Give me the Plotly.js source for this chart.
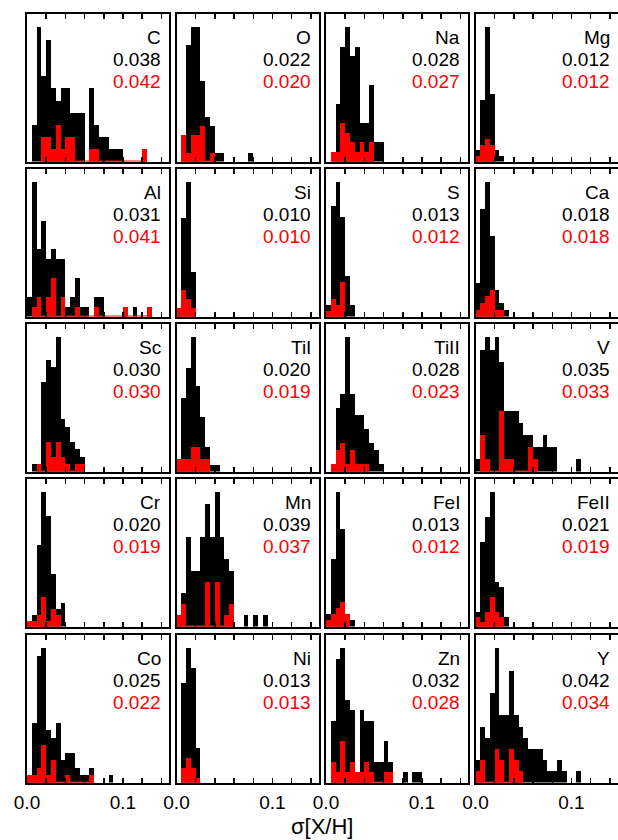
<!DOCTYPE html>
<html><head><meta charset="utf-8">
<script src="https://cdn.plot.ly/plotly-3.0.1.min.js"></script>
<style>html,body{margin:0;padding:0;background:#fff}#chart{width:618px;height:840px}</style>
</head><body><div id="chart"></div>
<script>
// ---- data (counts per 0.005-wide bin of sigma[X/H], starting at 0) ----
const binWidth = 0.005;
const elements = ["C","O","Na","Mg","Al","Si","S","Ca","Sc","TiI","TiII","V","Cr","Mn","FeI","FeII","Co","Ni","Zn","Y"];
const sigmaAll = ["0.038","0.022","0.028","0.012","0.031","0.010","0.013","0.018","0.030","0.020","0.028","0.035","0.020","0.039","0.013","0.021","0.025","0.013","0.032","0.042"];
const sigmaSub = ["0.042","0.020","0.027","0.012","0.041","0.010","0.012","0.018","0.030","0.019","0.023","0.033","0.019","0.037","0.012","0.019","0.022","0.013","0.028","0.034"];

const C_all = [0,3,11,7,10,6,5,6,6,4,4,4,0,6,3,2,2,1,1,1,0,0,0,0,1];
const C_sub = [0,0,0,2,2,1,3,1,2,2,0,0,0,1,1,0,0,0,0,0,0,0,0,0,1];
const O_all = [0,3,13,15,15,9,5,4,1,1,0,0,0,0,0,1];
const O_sub = [0,3,1,3,3,4,0,1];
const Na_all = [0,1,6,12,14,11,12,4,4,8,2,2];
const Na_sub = [0,1,1,4,3,2,1,2,1,2];
const Mg_all = [2,11,24,12,2,1];
const Mg_sub = [1,3,4,3];
const Al_all = [2,14,7,10,6,7,6,6,1,2,4,1,1,0,2,2,0,0,0,0,1,0,1,0,0,1];
const Al_sub = [0,1,2,0,2,4,0,2,0,0,1,0,0,0,1,0,0,0,0,0,1,0,0,0,0,1];
const Si_all = [1,11,15,5];
const Si_sub = [1,3,2,1];
const S_all = [2,19,23,17,7,2];
const S_sub = [1,3,2,6];
const Ca_all = [5,16,20,12,4,2,1];
const Ca_sub = [1,2,3,4,1,1];
const Sc_all = [0,1,1,12,15,14,18,7,6,4,3,2];
const Sc_sub = [0,0,1,0,4,2,4,2,1,0,1,1];
const TiI_all = [2,12,17,22,14,9,4,1,1];
const TiI_sub = [2,2,2,4,4,2,2];
const TiII_all = [0,1,9,11,19,11,8,8,6,4,3,1];
const TiII_sub = [0,1,3,4,1,3,1,1,1];
const V_all = [1,10,11,10,11,9,5,5,5,4,3,3,2,2,3,2,2,0,0,0,0,1];
const V_sub = [0,3,1,0,0,5,1,1,0,0,0,2,1];
const Cr_all = [1,2,14,23,19,9,3,4];
const Cr_sub = [1,1,2,5,1,3,2];
const Mn_all = [1,3,8,5,5,8,11,8,12,8,6,5,0,0,1,0,1,0,1];
const Mn_sub = [1,2,0,0,0,0,4,0,4,0,1,2];
const FeI_all = [2,11,22,16,2,1];
const FeI_sub = [1,2,3,4,2];
const FeII_all = [3,17,22,27,9,8,2];
const FeII_sub = [2,1,3,6,3,2];
const Co_all = [1,8,17,18,7,6,8,3,4,4,2,1,1,2,0,0,0,1];
const Co_sub = [1,1,2,5,1,3,0,0,1,0,0,0,0,1];
const Ni_all = [0,20,27,23,7];
const Ni_sub = [0,3,5,3,1];
const Zn_all = [0,6,12,13,8,7,1,7,6,6,2,2,4,2,0,0,1,0,1,1];
const Zn_sub = [0,2,1,4,1,2,1,1,2,1,0,0,1,1];
const Y_all = [2,5,4,8,12,6,6,10,6,5,4,3,3,3,2,1,1,2,1,0,0,1];
const Y_sub = [1,2,0,0,3,2,0,3,2,1];

const allCounts = [C_all,O_all,Na_all,Mg_all,Al_all,Si_all,S_all,Ca_all,Sc_all,TiI_all,TiII_all,V_all,Cr_all,Mn_all,FeI_all,FeII_all,Co_all,Ni_all,Zn_all,Y_all];
const subCounts = [C_sub,O_sub,Na_sub,Mg_sub,Al_sub,Si_sub,S_sub,Ca_sub,Sc_sub,TiI_sub,TiII_sub,V_sub,Cr_sub,Mn_sub,FeI_sub,FeII_sub,Co_sub,Ni_sub,Zn_sub,Y_sub];

const xTickVals = [0,0.02,0.04,0.06,0.08,0.1,0.12,0.14];
const xTickText = ["0.0","","","","","0.1","",""];

// ---- layout geometry (pixels) ----
const W = 618, H = 840;
const colLeft = [27, 176.5, 326, 475.5], panelW = 142;
const rowTop = [14, 169, 324, 479, 635], panelH = 147.5;
const xMax = 0.148;

const traces = [];
const layout = {
  width: W, height: H, margin: {l:0, r:0, t:0, b:0},
  paper_bgcolor: '#fff', plot_bgcolor: '#fff',
  showlegend: false, barmode: 'overlay', bargap: 0,
  font: {family: 'Liberation Sans, Arial, sans-serif', color: '#000'},
  annotations: []
};

function centers(arr){ return arr.map((_, i) => (i + 0.5) * binWidth); }

elements.forEach((el, i) => {
  const r = Math.floor(i / 4), c = i % 4, n = i + 1;
  const xa = 'x' + n, ya = 'y' + n;
  const all = allCounts[i], sub = subCounts[i];
  traces.push({type:'bar', x: centers(all), y: all, width: binWidth, xaxis: xa, yaxis: ya,
    marker:{color:'#000', line:{width:0}}, hoverinfo:'skip'});
  traces.push({type:'bar', x: centers(sub), y: sub, width: binWidth, xaxis: xa, yaxis: ya,
    marker:{color:'#ff0000', line:{width:0}}, hoverinfo:'skip'});
  // red baseline spanning the subset histogram
  let first = sub.findIndex(v => v > 0), last = sub.length - 1;
  while (last > 0 && sub[last] === 0) last--;
  traces.push({type:'scatter', mode:'lines', x:[first*binWidth, (last+1)*binWidth], y:[0,0],
    xaxis: xa, yaxis: ya, line:{color:'#ff0000', width:2}, hoverinfo:'skip', cliponaxis:false});

  const x0 = colLeft[c] / W, x1 = (colLeft[c] + panelW) / W;
  const y1 = 1 - rowTop[r] / H, y0 = 1 - (rowTop[r] + panelH) / H;
  const bottom = (r === 4);
  layout['xaxis' + (n === 1 ? '' : n)] = {
    domain:[x0, x1], anchor: ya, range:[0, xMax], showgrid:false, zeroline:false,
    showline:true, mirror:'ticks', linecolor:'#000', linewidth:2,
    ticks:'inside', ticklen:5, tickwidth:1.5, tickcolor:'#000',
    tickmode:'array', tickvals: xTickVals, ticktext: xTickText,
    showticklabels: bottom, tickfont:{size:19, color:'#000'}, ticklabelstandoff: 2, fixedrange:true
  };
  const ymax = Math.max(...all) * 1.1;
  layout['yaxis' + (n === 1 ? '' : n)] = {
    domain:[y0, y1], anchor: xa, range:[0, ymax], showgrid:false, zeroline:false,
    showline:true, mirror:true, linecolor:'#000', linewidth:2,
    ticks:'', showticklabels:false, fixedrange:true
  };
  const ax = (colLeft[c] + panelW - 7) / W;
  const t = rowTop[r];
  const lines = [[el, '#000', 23.5], [sigmaAll[i], '#000', 45.5], [sigmaSub[i], '#ff0000', 67.5]];
  lines.forEach(([txt, col, dy]) => {
    layout.annotations.push({xref:'paper', yref:'paper', x: ax, y: 1 - (t + dy) / H,
      xanchor:'right', yanchor:'middle', showarrow:false, text: txt,
      font:{size:19, color: col}, borderpad:0});
  });
});

layout.annotations.push({xref:'paper', yref:'paper', x: 322 / W, y: 1 - 826 / H,
  xanchor:'center', yanchor:'middle', showarrow:false, text:'σ[X/H]',
  font:{size:22, color:'#000'}});

Plotly.newPlot('chart', traces, layout, {staticPlot:true, displayModeBar:false});
</script>
</body></html>
